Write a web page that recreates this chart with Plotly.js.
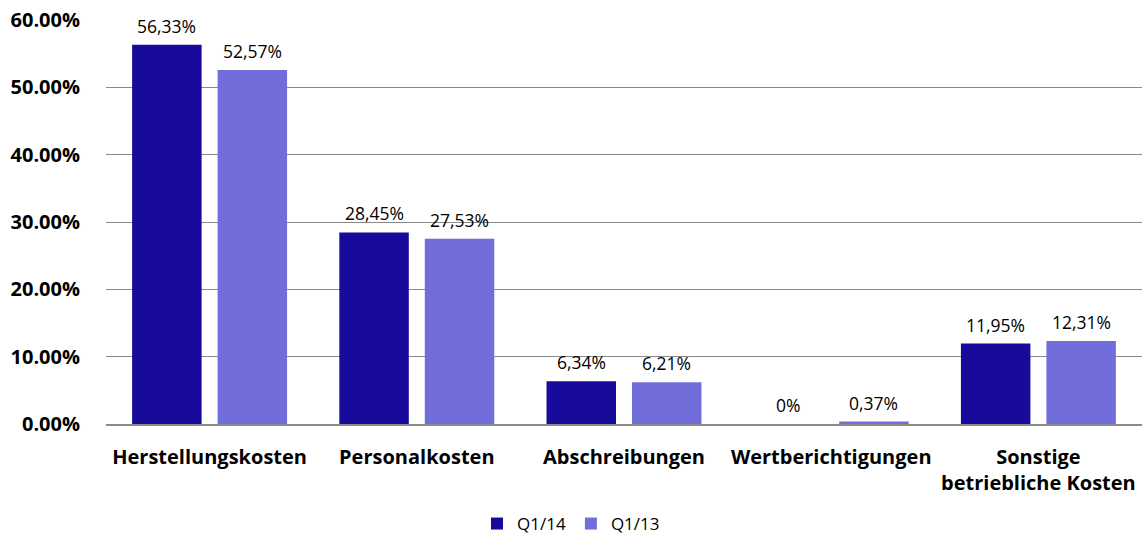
<!DOCTYPE html>
<html>
<head>
<meta charset="utf-8">
<script src="https://cdn.plot.ly/plotly-3.0.1.min.js"></script>
<style>html,body{margin:0;padding:0;background:#fff;}#chart{width:1142px;height:542px;}</style>
</head>
<body>
<div id="chart"></div>
<script>
const categories = ["Herstellungskosten", "Personalkosten", "Abschreibungen", "Wertberichtigungen", "Sonstige<br>betriebliche Kosten"];
const seriesNames = ["Q1/14", "Q1/13"];
const q114 = [56.33, 28.45, 6.34, 0, 11.95];
const q113 = [52.57, 27.53, 6.21, 0.37, 12.31];
const q114Labels = ["56,33%", "28,45%", "6,34%", "0%", "11,95%"];
const q113Labels = ["52,57%", "27,53%", "6,21%", "0,37%", "12,31%"];
const tickVals = [0, 10, 20, 30, 40, 50, 60];
const tickLabels = ["0.00%", "10.00%", "20.00%", "30.00%", "40.00%", "50.00%", "60.00%"];

const FONT = "'Open Sans', Lato, sans-serif";
const BARGAP = 0.175;
const colors = ['#180a9b', '#716edb'];
const traces = [
  {type:'bar', name:seriesNames[0], x:categories, y:q114, marker:{color:colors[0]}, hoverinfo:'x+y'},
  {type:'bar', name:seriesNames[1], x:categories, y:q113, marker:{color:colors[1]}, hoverinfo:'x+y'}
];
// value labels placed above each bar via the axis scales
const off = (1 - BARGAP) / 4;
const annotations = [];
[[q114, q114Labels, -off], [q113, q113Labels, off]].forEach(([vals, labs, d]) => {
  vals.forEach((v, i) => {
    annotations.push({xref:'x', yref:'y', x:i + d, y:v, text:labs[i], showarrow:false,
      yanchor:'bottom', yshift:5, font:{family:FONT, size:17.5, color:'#000'}});
  });
});
const layout = {
  width:1142, height:542,
  margin:{l:106, r:0, t:20, b:118},
  paper_bgcolor:'#fff', plot_bgcolor:'#fff',
  font:{family:FONT, color:'#000'},
  barmode:'group', bargap:BARGAP, bargroupgap:0.187,
  showlegend:true,
  legend:{orientation:'h', x:0.5, xanchor:'center', xref:'container', y:-0.009, yref:'container', yanchor:'bottom',
          font:{family:FONT, size:17, color:'#000'}, itemwidth:30, traceorder:'normal', borderwidth:0},
  annotations: annotations,
  xaxis:{type:'category', tickfont:{family:FONT, size:20, color:'#000', weight:'bold'},
         showline:true, linecolor:'#8a8a8a', linewidth:1.5, ticks:'', showgrid:false, zeroline:false,
         ticklabelstandoff:14, automargin:false},
  yaxis:{range:[0,60], tickmode:'array', tickvals:tickVals, ticktext:tickLabels,
         tickfont:{family:FONT, size:20, color:'#000', weight:'bold'},
         showgrid:true, gridcolor:'#8a8a8a', gridwidth:1, zeroline:false, showline:false,
         ticks:'', ticklabelstandoff:25, automargin:false}
};
Plotly.newPlot('chart', traces, layout, {displayModeBar:false, staticPlot:true});
</script>
</body>
</html>
